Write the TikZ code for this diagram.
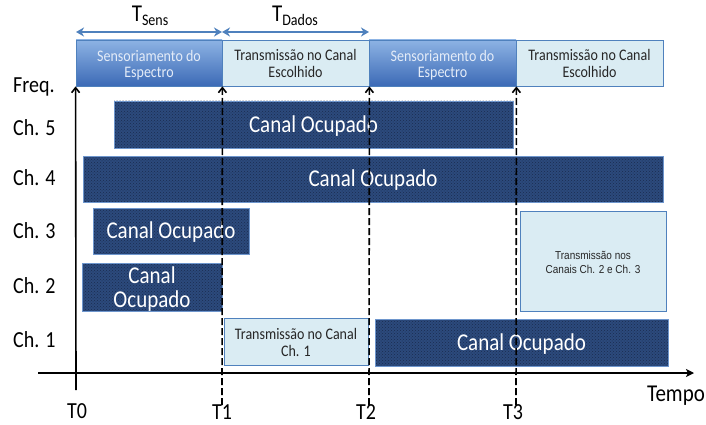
\documentclass[tikz,border=0pt]{standalone}
\usepackage{fontspec}
\usepackage{graphicx}
\setmainfont{Carlito}
\newfontfamily\arialf{Liberation Sans}
\usetikzlibrary{arrows.meta,patterns}
\newcommand{\vsx}[1]{\raisebox{-3pt}[\height][\depth]{\scalebox{1}[1.15]{\begin{tabular}{@{}c@{}}#1\end{tabular}}}}
\definecolor{busy}{RGB}{44,74,124}
\definecolor{busydark}{RGB}{26,44,80}
\definecolor{busyline}{RGB}{110,150,205}
\definecolor{lightbox}{RGB}{218,236,243}
\definecolor{boxline}{RGB}{79,129,189}
\definecolor{topA}{RGB}{141,179,228}
\definecolor{topB}{RGB}{60,106,182}
\definecolor{tarrow}{RGB}{79,129,189}
\definecolor{stext}{RGB}{228,236,248}
\begin{document}
\begin{tikzpicture}[x=1pt,y=-1pt,
  busybox/.style={draw=busyline,line width=0.6pt,preaction={fill=busy},pattern=crosshatch dots,pattern color=busydark,text=white,inner sep=0pt,align=center,font=\fontsize{21}{21}\selectfont},
  lbox/.style={draw=boxline,line width=0.8pt,fill=lightbox,inner sep=0pt,align=center,font=\fontsize{14}{14.5}\selectfont,text=black!85},
  sbox/.style={draw=boxline,line width=0.8pt,top color=topA,bottom color=topB,inner sep=0pt,align=center,font=\fontsize{14}{14}\selectfont,text=stext},
  lbl/.style={font=\fontsize{20}{22}\selectfont,inner sep=0pt},
  axis/.style={line width=1.8pt,-{Stealth[length=8pt,width=8pt,inset=2pt]}},
  yaxis/.style={line width=1.6pt,-{Straight Barb[length=5pt,width=8pt]}},
  dline/.style={line width=1.6pt,dash pattern=on 7pt off 3pt,-{Straight Barb[length=5pt,width=8pt]}},
  tarr/.style={line width=1.8pt,draw=tarrow,{Stealth[length=8pt,width=9pt,inset=2.5pt]}-{Stealth[length=8pt,width=9pt,inset=2.5pt]}}]
\useasboundingbox (0,0) rectangle (706,425);
% top bar
\node[sbox,minimum width=146pt,minimum height=46pt] (s1) at (149,63) {\vsx{Sensoriamento do\\Espectro}};
\node[lbox,minimum width=147pt,minimum height=46pt] (d1) at (295.5,63) {\vsx{Transmissão no Canal\\Escolhido}};
\node[sbox,minimum width=147pt,minimum height=46pt] (s2) at (442.5,63) {\vsx{Sensoriamento do\\Espectro}};
\node[lbox,minimum width=147pt,minimum height=46pt] (d2) at (589.5,63) {\vsx{Transmissão no Canal\\Escolhido}};
% T arrows
\coordinate (a0) at (76,32);
\coordinate (a1) at (222,32);
\coordinate (a2) at (369,32);
\draw[tarr] (a0) -- (a1);
\draw[tarr] (a1) -- (a2);
\node[inner sep=0pt,font=\fontsize{21}{23}\selectfont] (tsens) at (150,16) {\scalebox{1}[1.15]{T\raisebox{-4pt}{\fontsize{14}{15}\selectfont Sens}}};
\node[inner sep=0pt,font=\fontsize{21}{23}\selectfont] (tdados) at (295,16) {\scalebox{1}[1.15]{T\raisebox{-4pt}{\fontsize{14}{15}\selectfont Dados}}};
% channel blocks
\node[busybox,minimum width=399pt,minimum height=47pt] (c5) at (313.5,124.5) {\vsx{Canal Ocupado}};
\node[busybox,minimum width=580pt,minimum height=46pt] (c4) at (373,179) {\vsx{Canal Ocupado}};
\node[busybox,minimum width=156pt,minimum height=46pt] (c3) at (171,231) {\vsx{Canal Ocupado}};
\node[busybox,minimum width=140pt,minimum height=47pt] (c2) at (152,287.5) {\vsx{Canal\\Ocupado}};
\node[lbox,minimum width=144pt,minimum height=47pt] (c1t) at (296,341.5) {\vsx{Transmissão no Canal\\Ch. 1}};
\node[busybox,minimum width=293pt,minimum height=47pt] (c1b) at (521.5,342.5) {\vsx{Canal Ocupado}};
\node[lbox,minimum width=146pt,minimum height=100pt,font=\arialf\fontsize{10}{12}\selectfont] (c23) at (593,261) {\vsx{Transmissão nos\\Canais Ch. 2 e Ch. 3}};
% labels
\node[lbl,anchor=west] (freq) at (13,84) {\vsx{Freq.}};
\node[lbl,anchor=west] (l5) at (13,127) {\vsx{Ch. 5}};
\node[lbl,anchor=west] (l4) at (13,177) {\vsx{Ch. 4}};
\node[lbl,anchor=west] (l3) at (13,230) {\vsx{Ch. 3}};
\node[lbl,anchor=west] (l2) at (13,285) {\vsx{Ch. 2}};
\node[lbl,anchor=west] (l1) at (13,339) {\vsx{Ch. 1}};
\node[lbl] (t0) at (77,410) {\vsx{T0}};
\node[lbl] (t1) at (222,411) {\vsx{T1}};
\node[lbl] (t2) at (366,411) {\vsx{T2}};
\node[lbl] (t3) at (513,411) {\vsx{T3}};
\node[lbl,font=\fontsize{21}{23}\selectfont] (tempo) at (676,393) {\vsx{Tempo}};
% axes
\coordinate (xs) at (38,373);
\coordinate (xe) at (694,373);
\coordinate (y0) at (76,390);
\coordinate (y1) at (222,405);
\coordinate (y2) at (369,405);
\coordinate (y3) at (516,405);
\draw[axis] (xs) -- (xe);
\draw[yaxis] (y0) -- (s1.south west);
\draw[dline] (y1) -- (s1.south east);
\draw[dline] (y2) -- (d1.south east);
\draw[dline] (y3) -- (s2.south east);
\end{tikzpicture}
\end{document}
